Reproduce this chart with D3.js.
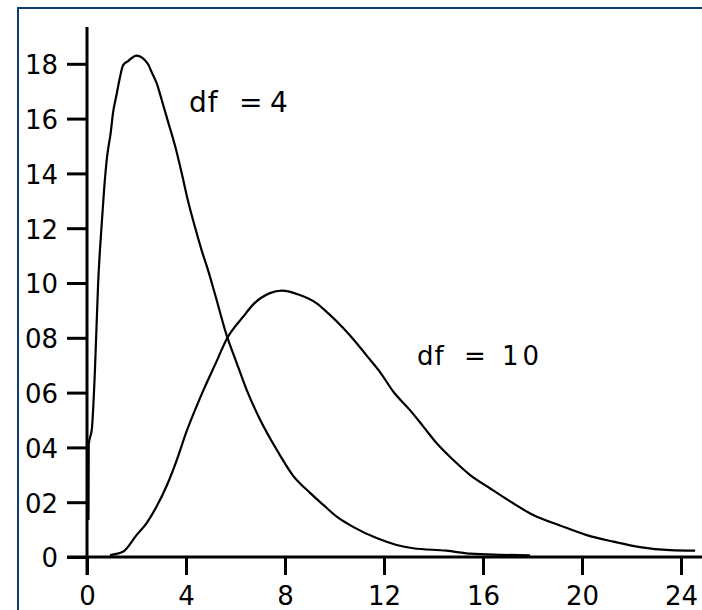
<!DOCTYPE html>
<html>
<head>
<meta charset="utf-8">
<script src="https://d3js.org/d3.v7.min.js"></script>
<style>
  body { margin: 0; background: #fff; }
  svg { display: block; }
</style>
</head>
<body>
<div id="chart"></div>
<script>
// ======= tick values and labels
var xTicks = [0, 4, 8, 12, 16, 20, 24];
var yTicks = [0, 0.02, 0.04, 0.06, 0.08, 0.10, 0.12, 0.14, 0.16, 0.18];
var yLabels = ["0", "02", "04", "06", "08", "10", "12", "14", "16", "18"];

// ======= curve df = 4
var df4X = [0.06, 0.07, 0.2, 0.32, 0.45, 0.59, 0.69, 0.81, 0.96, 1.05, 1.2, 1.33, 1.46, 1.66,
  2.0, 2.46, 2.61, 2.81, 3.02, 3.27, 3.56, 3.83, 4.08, 4.36, 4.63, 4.89, 5.17, 5.64, 6.05, 6.45,
  7.0, 7.72, 8.3, 9.0, 9.55, 10.09, 10.75, 11.7, 12.51, 13.18, 14.53, 15.5, 16.7, 17.9];
var df4Y = [0.0135, 0.041, 0.047, 0.068, 0.100, 0.121, 0.134, 0.146, 0.155, 0.162, 0.169, 0.175, 0.1795, 0.181,
  0.183, 0.180, 0.177, 0.173, 0.1668, 0.159, 0.150, 0.140, 0.130, 0.1205, 0.112, 0.1047, 0.096, 0.081, 0.0708, 0.061,
  0.050, 0.0383, 0.030, 0.0235, 0.019, 0.0147, 0.011, 0.0069, 0.0044, 0.0032, 0.0023, 0.0012, 0.0008, 0.0006];

// ======= curve df = 10
var df10X = [0.93, 1.45, 2.0, 2.41, 2.81, 3.22, 3.62, 4.03, 4.36, 4.7, 5.24, 5.64, 6.32, 6.72, 7.39,
  7.87, 8.6, 9.28, 9.75, 10.36, 10.76, 11.3, 11.84, 12.38, 13.05, 13.59, 14.13, 14.8, 15.47,
  16.28, 17.22, 18.03, 19.11, 20.19, 21.27, 22.34, 23.56, 24.57];
var df10Y = [0.0007, 0.0019, 0.008, 0.0124, 0.0184, 0.026, 0.0352, 0.046, 0.0535, 0.0608, 0.0715, 0.0795, 0.0878, 0.0922, 0.0963,
  0.0972, 0.0956, 0.0926, 0.0889, 0.0835, 0.0795, 0.0735, 0.0675, 0.0603, 0.0536, 0.0476, 0.0415, 0.0354, 0.030,
  0.0251, 0.0196, 0.0153, 0.0115, 0.008, 0.0056, 0.0036, 0.0025, 0.0023];

var labels = [
  { x: 4.16, y: 0.1624, parts: ["df", "=", "4"], size: 28 },
  { x: 13.37, y: 0.0701, parts: ["df", "=", "10"], size: 26 }
];

var W = 702, H = 610;

var svg = d3.select("#chart")
  .append("svg")
  .attr("width", W)
  .attr("height", H);

// ======= frame (dark blue, only left and top show)
svg.append("rect")
  .attr("x", 18)
  .attr("y", 8)
  .attr("width", W + 20)
  .attr("height", H + 20)
  .attr("fill", "none")
  .attr("stroke", "#0f3c6e")
  .attr("stroke-width", 2);

var x = d3.scaleLinear().domain([0, 24]).range([87, 681]);
var y = d3.scaleLinear().domain([0, 0.18]).range([557, 63.8]);

// ======= axes
var yAxis = d3.axisLeft(y)
  .tickValues(yTicks)
  .tickSize(20)
  .tickPadding(9)
  .tickFormat(function(d, j) { return yLabels[j]; });

var xAxis = d3.axisBottom(x)
  .tickValues(xTicks)
  .tickSize(18)
  .tickPadding(12)
  .tickFormat(function(d) { return d; });

var gy = svg.append("g")
  .attr("transform", "translate(" + x(0) + ",0)")
  .call(yAxis);

var gx = svg.append("g")
  .attr("transform", "translate(0," + y(0) + ")")
  .call(xAxis);

[gx, gy].forEach(function(g) {
  g.select(".domain").remove();
  g.selectAll(".tick line")
    .attr("stroke", "#000")
    .attr("stroke-width", 3);
  g.selectAll(".tick text")
    .attr("fill", "#000")
    .attr("font-family", "'DejaVu Sans', sans-serif")
    .attr("font-size", "26px");
});
gy.selectAll(".tick text").attr("dy", "0.38em");

// ======= main axis lines
svg.append("line")
  .attr("x1", x(0)).attr("x2", x(0))
  .attr("y1", 27).attr("y2", y(0) + 18)
  .attr("stroke", "#000")
  .attr("stroke-width", 3);

svg.append("line")
  .attr("x1", x(0) - 20).attr("x2", W)
  .attr("y1", y(0)).attr("y2", y(0))
  .attr("stroke", "#000")
  .attr("stroke-width", 3);

// ======= curves
var line = d3.line()
  .curve(d3.curveMonotoneX)
  .x(function(d) { return x(d[0]); })
  .y(function(d) { return y(d[1]); });

var curves = [d3.zip(df4X, df4Y), d3.zip(df10X, df10Y)];

svg.selectAll("path.curve")
  .data(curves)
  .enter()
  .append("path")
  .attr("class", "curve")
  .attr("d", line)
  .attr("fill", "none")
  .attr("stroke", "#000")
  .attr("stroke-width", 2.2);

// ======= df labels
var offsets = [[-1, 49, 80], [-1, 46, 84]];

svg.selectAll("text.df")
  .data(labels)
  .enter()
  .append("text")
  .attr("class", "df")
  .attr("x", function(d) { return x(d.x); })
  .attr("y", function(d) { return y(d.y); })
  .attr("font-family", "'DejaVu Sans', sans-serif")
  .attr("font-size", function(d) { return d.size + "px"; })
  .attr("fill", "#000")
  .each(function(d, j) {
    var t = d3.select(this);
    d.parts.forEach(function(p, k) {
      t.append("tspan")
        .attr("x", x(d.x) + offsets[j][k])
        .attr("letter-spacing", k == 2 ? 4 : 1)
        .text(p);
    });
  });
</script>
</body>
</html>
